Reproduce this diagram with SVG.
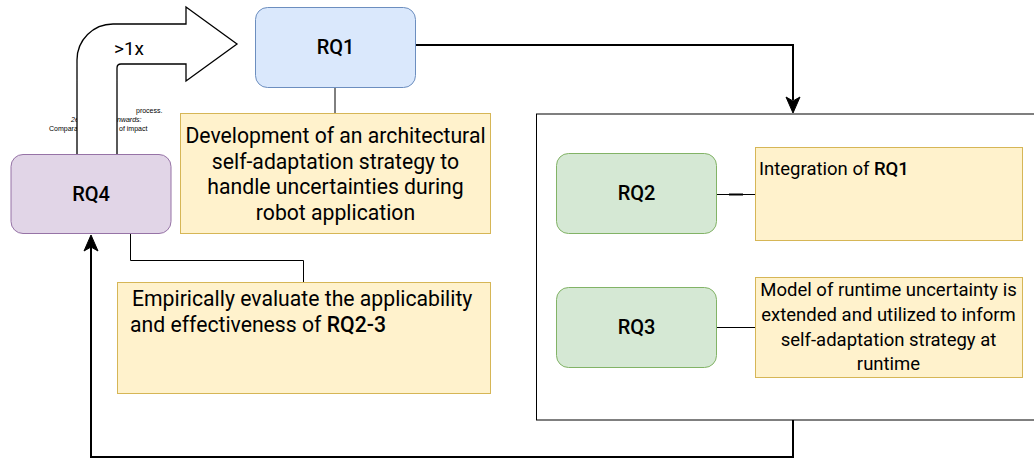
<svg xmlns="http://www.w3.org/2000/svg" width="1034" height="460" viewBox="0 0 1034 460">
<style>
.rq{font-family:Roboto,"Liberation Sans",sans-serif;font-size:20px;font-weight:500;fill:#000;text-anchor:middle}
.b{font-weight:500}
.note{fill:#fff2cc;stroke:#d6b656;stroke-width:1}
.t20{font-family:Roboto,"Liberation Sans",sans-serif;font-size:21.2px;fill:#000}
.t18{font-family:Roboto,"Liberation Sans",sans-serif;font-size:18.5px;fill:#000}
.tiny{font-family:"Liberation Sans",Arial,sans-serif;font-size:7px;fill:#000}
.thin{fill:none;stroke:#000;stroke-width:1}
.thick{fill:none;stroke:#000;stroke-width:2}
</style>
<rect width="1034" height="460" fill="#fff"/>
<g id="fragments">
<text class="tiny" x="136" y="113">process.</text>
<text class="tiny" x="71" y="122" font-style="italic">2e</text>
<text class="tiny" x="117" y="122" font-style="italic">nwards:</text>
<text class="tiny" x="49" y="131">Compara</text>
<text class="tiny" x="119" y="131">of impact</text>
</g>
<g id="bent-arrow">
<path d="M77,160 L77,60 A36,36 0 0 1 113,24 L186,24 L186,7 L237,44 L186,81 L186,64 L121,64 Q117,64 117,68 L117,160 Z" fill="#fff" stroke="#000" stroke-width="1.3"/>
<text x="114" y="55" font-family="Roboto,'Liberation Sans',sans-serif" font-size="19" fill="#000">&gt;1x</text>
</g>
<g id="container">
<rect x="536.5" y="114" width="520" height="306" fill="#fff" stroke="#000" stroke-width="1"/>
</g>
<g id="connectors">
<line class="thin" x1="335" y1="87" x2="335" y2="113"/>
<path class="thin" d="M130.5,233 V260.5 H303.5 V282"/>
<line class="thin" x1="716" y1="194.5" x2="755" y2="194.5"/>
<line x1="729" y1="194.5" x2="743" y2="194.5" stroke="#000" stroke-width="2"/>
<line class="thin" x1="716" y1="327.5" x2="755" y2="327.5"/>
<path class="thick" d="M415,45 H793 V100"/>
<polygon points="793,113 786,97 793,101 800,97" fill="#000" stroke="#000" stroke-width="1"/>
<path class="thick" d="M793,420 V457 H91 V246"/>
<polygon points="91,235 84,251 91,247 98,251" fill="#000" stroke="#000" stroke-width="1"/>
</g>
<g id="RQ1">
<rect x="255.5" y="7.5" width="160" height="80" rx="12" fill="#dae8fc" stroke="#6c8ebf"/>
<text class="rq" x="335.5" y="54">RQ1</text>
</g>
<g id="RQ1-note">
<rect class="note" x="180.5" y="113.5" width="310" height="120"/>
<text class="t20" text-anchor="middle"><tspan x="335.5" y="143">Development of an architectural</tspan><tspan x="335.5" y="168.5">self-adaptation strategy to</tspan><tspan x="335.5" y="194">handle uncertainties during</tspan><tspan x="335.5" y="219.5">robot application</tspan></text>
</g>
<g id="RQ4">
<rect x="11" y="154.5" width="160" height="79" rx="12" fill="#e1d5e7" stroke="#9673a6"/>
<text class="rq" x="91" y="201">RQ4</text>
</g>
<g id="RQ4-note">
<rect class="note" x="117.5" y="282.5" width="373" height="111"/>
<text class="t20"><tspan x="132" y="306">Empirically evaluate the applicability</tspan><tspan x="130" y="332">and effectiveness of <tspan class="b">RQ2-3</tspan></tspan></text>
</g>
<g id="RQ2">
<rect x="556.5" y="153.5" width="160" height="80" rx="12" fill="#d5e8d4" stroke="#82b366"/>
<text class="rq" x="636.5" y="200">RQ2</text>
</g>
<g id="RQ2-note">
<rect class="note" x="755.5" y="147.5" width="267" height="93"/>
<text class="t18" x="759" y="175">Integration of <tspan class="b">RQ1</tspan></text>
</g>
<g id="RQ3">
<rect x="556.5" y="287.5" width="160" height="80" rx="12" fill="#d5e8d4" stroke="#82b366"/>
<text class="rq" x="636.5" y="334">RQ3</text>
</g>
<g id="RQ3-note">
<rect class="note" x="755.5" y="277.5" width="267" height="100"/>
<text class="t18" text-anchor="middle"><tspan x="888.5" y="296">Model of runtime uncertainty is</tspan><tspan x="888.5" y="321">extended and utilized to inform</tspan><tspan x="888.5" y="346">self-adaptation strategy at</tspan><tspan x="888.5" y="370">runtime</tspan></text>
</g>
</svg>
